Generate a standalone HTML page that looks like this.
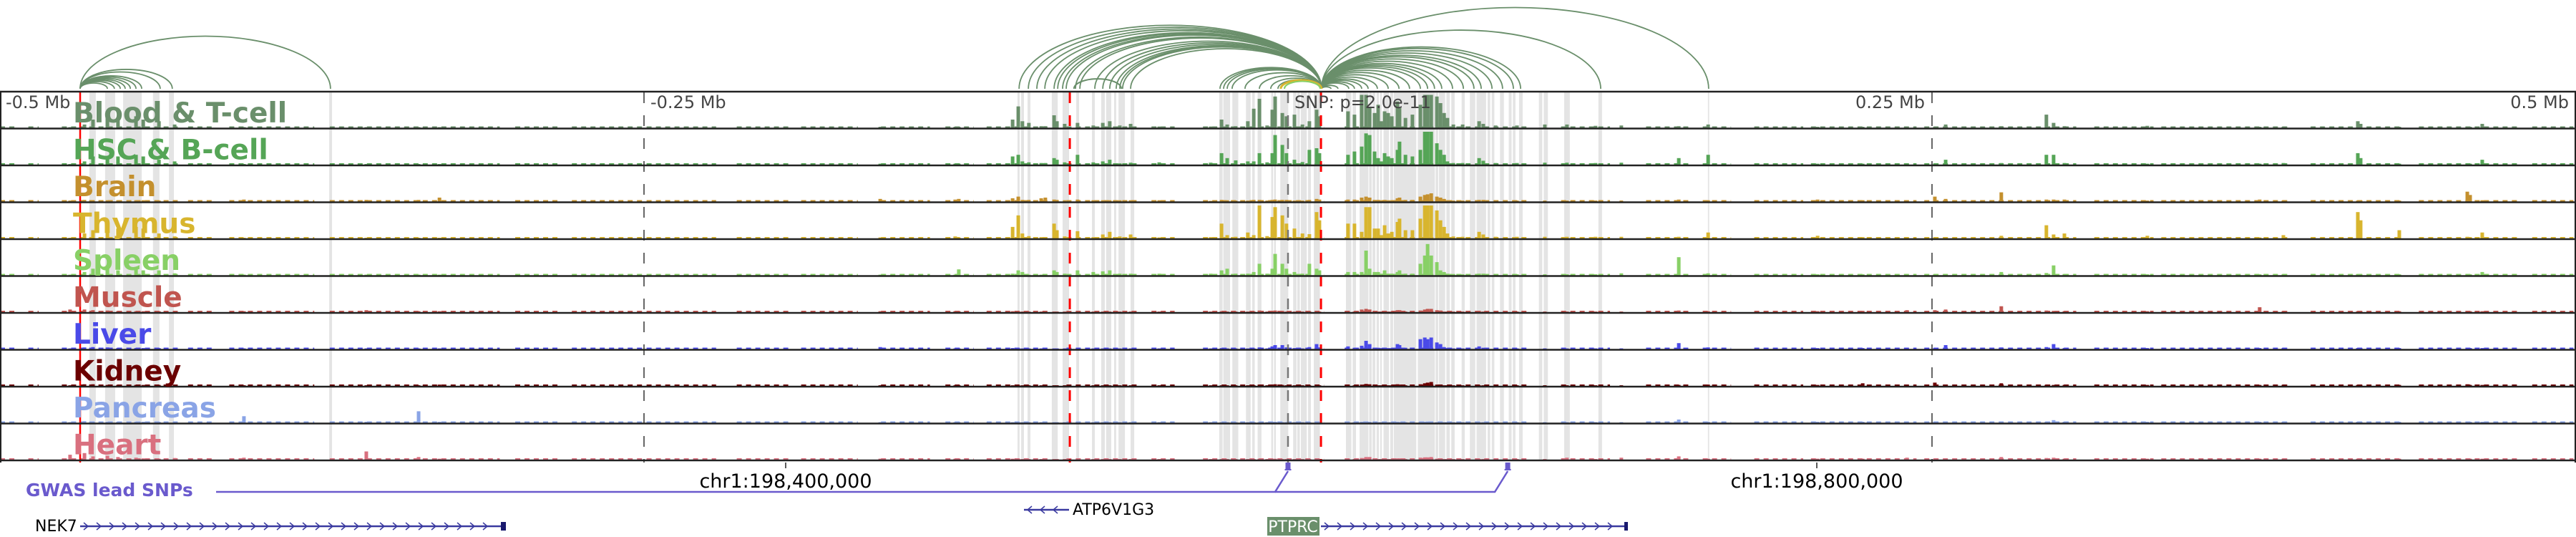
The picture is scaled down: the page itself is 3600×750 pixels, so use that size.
<!DOCTYPE html>
<html><head><meta charset="utf-8"><style>
html,body{margin:0;padding:0;background:#fff;}
svg{display:block;font-family:"DejaVu Sans","Liberation Sans",sans-serif;}
</style></head><body>
<svg id="chart" width="3600" height="750" viewBox="0 0 3600 750" xmlns="http://www.w3.org/2000/svg">
<g id="highlights"></g>
<g id="arcs"></g>
<g id="bg"></g>
<g id="bars"></g>
<g id="lines"></g>
<g id="borders"></g>
<g id="labels"></g>
<g id="bottom"></g>
</svg>
<script>
// ---- data ----
const trackNames = ["Blood & T-cell","HSC & B-cell","Brain","Thymus","Spleen","Muscle","Liver","Kidney","Pancreas","Heart"];
const trackColors = ["#6a8f6b","#55a556","#c4902e","#d8b52e","#88d066","#c0554f","#4a4ae8","#6b0000","#8aa4e6","#d9707f"];
const peakKb = [-472.8,-467.2,-463.9,-458.3,-454.2,-447.2,-444.4,-438.3,-432.2,-405.3,
-357.8,-337.5,-329.4,-158.3,-129.2,-127.8,-106.9,-104.7,-103.1,-100.6,
-95.8,-94.2,-90.8,-89.7,-86.7,-81.7,-75.6,-71.9,-69.2,-65.3,
-61.1,-50,-30,-25.8,-23.6,-20.3,-15.6,-13.3,-11.1,-8.1,
-6.1,-5,-2.2,-0.6,2.5,5.6,8.3,11.1,12.2,23.3,
25.8,28.6,30.3,31.7,33.6,35,36.1,37.5,38.9,40.3,
42.5,43.3,45.6,48.3,51.4,53.1,54.2,55.6,57.8,59.2,
60.6,61.9,64.2,67.8,74.2,75.8,80.6,88.9,99.7,108.3,
119.4,129.4,151.7,163.1,205.6,223.1,240.3,251.1,255.3,276.9,
294.4,297.2,301.4,333.6,377.2,386.4,415.3,416.4,431.4,457.8,458.9,463.6];
const bloodVals = [.02,.1,.25,.3,.3,.35,.25,.2,.1,.02, .02,.02,.02,.03,.03,.03,.25,.65,.2,.15, .05,.05,.38,.2,.12,.15,.07,.15,.2,.07, .12,.04,.04,.25,.1,.05,.2,.58,.88,.07, .55,.95,.45,.35,.4,.1,.2,.55,.35,.5, .4,1,1,.6,.45,.7,.2,.5,.45,.35, .8,.6,.3,.4,.7,1,1,1,.95,.75, .45,.3,.1,.1,.2,.12,.07,.07,.1,.1, .06,.07,.05,.1,.03,.03,.03,.03,.1,.05, .4,.15,.05,.06,.03,.03,.2,.12,.03,.03,.03,.12];
const hscVals = [.02,.1,.25,.25,.25,.3,.25,.15,.1,.02, .02,.02,.02,.03,.03,.03,.25,.3,.1,.07, .05,.05,.2,.15,.07,.3,.07,.1,.15,.04, .06,.07,.06,.35,.2,.13,.1,.1,.35,.07, .35,.9,.6,.35,.15,.08,.45,.5,.35,.3, .4,.55,.95,.9,.4,.2,.1,.35,.25,.2, .45,.7,.3,.25,.45,1,1,1,.65,.45, .3,.1,.05,.05,.2,.12,.05,.05,.06,.06, .05,.06,.2,.3,.03,.03,.03,.03,.15,.05, .3,.3,.05,.03,.03,.05,.35,.2,.03,.03,.03,.15];
const brainVals = [.03,.05,.04,.04,.04,.04,.04,.03,.03,.06, .05,.05,.12,.08,.06,.08,.1,.15,.05,.05, .1,.12,.06,.05,.04,.06,.04,.04,.04,.04, .04,.04,.02,.05,.04,.03,.03,.05,.05,.03, .05,.06,.05,.05,.03,.03,.05,.08,.06,.06, .06,.12,.15,.12,.05,.05,.04,.05,.04,.04, .1,.12,.05,.05,.15,.2,.22,.25,.15,.12, .08,.04,.03,.03,.05,.05,.03,.03,.03,.03, .03,.03,.06,.04,.06,.04,.04,.15,.08,.28, .06,.06,.06,.03,.06,.03,.03,.03,.03,.3,.2,.04];
const thymusVals = [.02,.15,.25,.35,.3,.35,.3,.15,.06,.02, .02,.02,.02,.03,.06,.03,.35,.7,.15,.07, .04,.04,.45,.25,.06,.22,.04,.12,.2,.06, .12,.03,.04,.45,.1,.05,.18,.1,1,.07, .65,.95,.7,.45,.3,.15,.13,.8,.55,.45, .45,.2,.95,.95,.3,.3,.1,.4,.15,.2, .5,.6,.25,.25,.6,1,1,1,.85,.55, .35,.15,.06,.05,.2,.12,.05,.05,.05,.05, .05,.05,.05,.18,.08,.04,.04,.03,.04,.08, .4,.12,.15,.08,.03,.1,.8,.55,.25,.05,.04,.18];
const spleenVals = [.02,.1,.2,.25,.15,.2,.15,.15,.06,.02, .02,.02,.02,.02,.02,.18,.05,.15,.1,.02, .02,.02,.15,.1,.05,.15,.1,.12,.15,.05, .05,.05,.05,.15,.2,.05,.05,.1,.35,.05, .2,.65,.35,.2,.1,.05,.35,.2,.15,.1, .1,.1,.75,.2,.1,.1,.05,.15,.05,.05, .1,.15,.05,.05,.35,.6,.95,.6,.4,.15, .1,.05,.04,.03,.05,.05,.03,.03,.03,.03, .03,.06,.55,.06,.03,.03,.03,.03,.04,.1, .07,.3,.04,.03,.03,.03,.04,.03,.03,.03,.03,.1];
const muscleVals = [.08,.08,.06,.05,.03,.03,.03,.03,.03,.03, .06,.03,.03,.03,.03,.03,.03,.03,.02,.02, .02,.02,.02,.02,.02,.02,.02,.02,.02,.02, .02,.02,.02,.03,.02,.02,.02,.02,.05,.02, .03,.05,.04,.02,.02,.02,.03,.04,.02,.04, .02,.08,.1,.08,.02,.02,.02,.02,.02,.02, .06,.06,.02,.02,.05,.08,.1,.1,.06,.05, .02,.02,.02,.02,.04,.02,.02,.02,.02,.02, .02,.02,.05,.03,.03,.04,.06,.06,.08,.18, .05,.04,.03,.03,.15,.03,.03,.03,.03,.03,.03,.03];
const liverVals = [.02,.05,.06,.05,.03,.03,.03,.03,.03,.02, .02,.02,.02,.06,.02,.02,.03,.03,.02,.02, .02,.02,.02,.02,.02,.02,.02,.02,.02,.02, .02,.02,.02,.03,.02,.02,.02,.02,.05,.02, .08,.12,.12,.05,.03,.02,.06,.15,.05,.08, .04,.1,.25,.15,.04,.04,.03,.04,.03,.03, .15,.12,.04,.04,.3,.35,.3,.35,.2,.15, .06,.03,.02,.02,.08,.04,.02,.02,.02,.02, .02,.02,.18,.05,.03,.03,.03,.03,.12,.05, .06,.15,.03,.03,.03,.03,.03,.03,.03,.03,.03,.03];
const kidneyVals = [.02,.05,.05,.03,.03,.03,.03,.03,.02,.02, .02,.02,.04,.02,.02,.02,.02,.02,.02,.02, .02,.02,.02,.02,.02,.02,.02,.02,.02,.02, .02,.02,.02,.02,.02,.02,.02,.02,.04,.02, .03,.05,.03,.02,.02,.02,.02,.03,.02,.04, .02,.04,.06,.05,.02,.02,.02,.02,.02,.02, .05,.04,.02,.02,.05,.08,.1,.12,.04,.03, .02,.02,.02,.02,.02,.02,.02,.02,.02,.02, .02,.02,.03,.04,.03,.08,.03,.1,.03,.08, .03,.03,.03,.03,.03,.03,.03,.03,.03,.05,.03,.03];
const pancreasVals = [.02,.05,.04,.03,.03,.03,.03,.03,.02,.2, .03,.35,.03,.02,.02,.02,.02,.02,.02,.02, .02,.02,.02,.02,.02,.02,.02,.02,.02,.02, .02,.02,.02,.02,.02,.02,.02,.02,.02,.02, .02,.03,.02,.02,.02,.02,.02,.03,.02,.02, .02,.03,.03,.03,.02,.02,.02,.02,.02,.02, .03,.02,.02,.02,.03,.03,.04,.04,.02,.02, .02,.02,.02,.02,.02,.02,.02,.02,.02,.02, .02,.02,.1,.03,.03,.03,.03,.03,.03,.04, .03,.08,.03,.03,.03,.03,.03,.03,.03,.03,.03,.03];
const heartVals = [.15,.2,.1,.12,.08,.06,.04,.03,.05,.06, .25,.08,.03,.03,.03,.03,.03,.03,.02,.02, .02,.02,.02,.02,.02,.02,.02,.02,.02,.02, .02,.02,.02,.02,.02,.02,.02,.02,.03,.02, .02,.03,.02,.02,.02,.02,.02,.03,.02,.02, .02,.05,.08,.08,.02,.02,.02,.02,.02,.02, .04,.04,.02,.02,.06,.07,.07,.08,.03,.02, .02,.02,.02,.02,.02,.02,.02,.02,.02,.06, .02,.06,.1,.03,.03,.03,.06,.03,.03,.08, .05,.06,.03,.03,.03,.03,.03,.03,.03,.03,.03,.03];
const bgSegKb = [[-500,-494],[-489,-485],[-476,-469],[-469,-431],[-427,-417],[-411,-378],[-372,-306],[-300,-283],[-278,-250],[-249,-222],[-214,-194],[-189,-167],[-158,-139],[-133,-122],[-117,-92],[-86,-58],[-53,-44],[-33,14],[22,94],[106,125],[139,156],[161,172],[181,200],[203,244],[247,306],[313,336],[339,389],[397,433],[439,478],[483,499]];
const highlightKb = [[-465.3,-462.8],[-459.2,-455.3],[-452.2,-445],[-440.6,-438.1],[-434.4,-432.5],[-372.2,-371.1],
[-105,-104.2],[-103.6,-102.5],[-101.1,-100],[-91.7,-89.4],[-87.5,-85],[-82.2,-81.1],[-76.1,-75],[-72.5,-71.1],[-70.6,-68.6],[-67.5,-66.7],[-65.8,-63.3],[-61.1,-59.7],
[-26.7,-25.4],[-25.1,-22.5],[-21.6,-19.3],[-16.3,-14.5],[-13.9,-12.9],[-11.8,-10.3],[-6.5,-5.8],[-5.4,-4.7],[-3,0.1],[2,3.3],[3.6,4.6],[5,7.3],[7.8,8.9],[10,12.4],
[22.5,24.6],[25.1,26.4],[27.8,31.2],[31.5,32.5],[32.8,33.9],[34.4,35.3],[35.8,36.4],[37.1,39.2],[39.7,40.8],[41.1,49.8],[50.4,57],[57.3,58.3],[58.6,61],[61.5,62.8],[63.4,64.7],[67.4,68.6],[70.6,72.7],[73.2,76.9],[77.5,78.5],[79.1,80.1],[82.3,83.8],[85.7,86.8],[87.3,88.3],[89.7,91.1],[97.4,98.7],[99.3,100.9],[107.2,109.4],[120.5,121.9],[163,163.5]];
const arcAnchorKb = 13;
const arcTargetKb = [-104.4,-100.8,-97.5,-94.4,-90.8,-89.4,-87.5,-86.1,-82.5,-80.8,-75,-71.9,-69.2,-66.7,-65.3,-64.2,-61.1,-26.4,-25,-23.6,-21.7,-16.7,-11.1,-6.7,-3.9,-1.4,
16.7,19.4,23.6,25.8,28.6,31.1,34.7,38.9,43.1,47.2,51.4,54.2,56.9,59.7,63.9,68.1,72.2,75,79.2,83.3,87.5,90.3,121.4,163.3];
const leftAnchorKb = -468.9;
const leftTargetKb = [-458.3,-455.6,-453.3,-451.4,-449.4,-447.2,-445,-437.8,-433.1,-371.7];
const tickLabels = ["-0.5 Mb","-0.25 Mb","SNP: p=2.0e-11","0.25 Mb","0.5 Mb"];
const tickKb = [-500,-250,0,250,500];
const snpKb = [0,85.3];

// ---- scales ----
const NS="http://www.w3.org/2000/svg";
function xs(kb){return 1800+kb*3.6;}
const TOP=129, TH=51.5, MAXH=46;
function trackBase(i){return TOP+TH*(i+1)-2;}
function ys(i,v){return MAXH*v;}
function mk(tag,attrs,parent){const e=document.createElementNS(NS,tag);for(const k in attrs)e.setAttribute(k,attrs[k]);parent.appendChild(e);return e;}
const G=id=>document.getElementById(id);
const allVals=[bloodVals,hscVals,brainVals,thymusVals,spleenVals,muscleVals,liverVals,kidneyVals,pancreasVals,heartVals];

// highlights
highlightKb.forEach(r=>{
  const e=mk('rect',{x:xs(r[0]),y:TOP,width:Math.max(1.5,xs(r[1])-xs(r[0])),height:TH*10,fill:'#e4e4e4'},G('highlights'));
  
  
});

// arcs
function arc(k1,k2,color,w){
  const x1=xs(Math.min(k1,k2)),x2=xs(Math.max(k1,k2));const span=x2-x1;
  const e=mk('path',{d:`M${x1},124 A${span/2},${0.21*span} 0 0 1 ${x2},124`,fill:'none',stroke:color,'stroke-width':w},G('arcs'));
  
  
}
arcTargetKb.forEach(t=>arc(arcAnchorKb,t,'#6a8f6b',1.8));
leftTargetKb.forEach(t=>arc(leftAnchorKb,t,'#6a8f6b',1.8));
arc(-83.1,-64.7,'#6a8f6b',2);
arc(-2.8,13,'#d8b52e',3);
arc(-1.4,12.5,'#88d066',2);

// background + bars
for(let i=0;i<10;i++){
  const base=trackBase(i);
  bgSegKb.forEach(s=>{
    const e=mk('line',{x1:xs(s[0]),y1:base-1,x2:xs(s[1]),y2:base-1,stroke:trackColors[i],'stroke-width':2,'stroke-dasharray':'7 6'},G('bg'));
    
    
  });
  const vals=allVals[i];
  peakKb.forEach((k,j)=>{
    const h=ys(i,vals[j]);
    const e=mk('rect',{x:xs(k)-2.5,y:base-h,width:5,height:h,fill:trackColors[i]},G('bars'));
    
    
  });
}

// marker lines
const L=G('lines');
let e;
e=mk('line',{x1:112,y1:TOP,x2:112,y2:646,stroke:'#ff0000','stroke-width':2.5},L);

[-250,250].forEach(k=>{e=mk('line',{x1:xs(k),y1:TOP,x2:xs(k),y2:646,stroke:'#666','stroke-width':2,'stroke-dasharray':'15 17'},L);
});
e=mk('line',{x1:xs(0),y1:TOP,x2:xs(0),y2:646,stroke:'#777','stroke-width':2.5,'stroke-dasharray':'15 17'},L);

[-84.7,12.8].forEach(k=>{e=mk('line',{x1:xs(k),y1:TOP,x2:xs(k),y2:646,stroke:'#ff0000','stroke-width':3,'stroke-dasharray':'15 17'},L);
});

// borders
for(let i=0;i<=10;i++){
  e=mk('line',{x1:0,y1:TOP-1+TH*i,x2:3600,y2:TOP-1+TH*i,stroke:'#222','stroke-width':2.5},G('borders'));
  
}
e=mk('line',{x1:1,y1:TOP,x2:1,y2:646,stroke:'#222','stroke-width':2},G('borders'));

e=mk('line',{x1:3599,y1:TOP,x2:3599,y2:646,stroke:'#222','stroke-width':2},G('borders'));


// labels
trackNames.forEach((n,i)=>{
  const t=mk('text',{x:102,y:TOP+TH*i+42,fill:trackColors[i],'font-size':39,'font-weight':'bold'},G('labels'));
  t.textContent=n;
  
  
});
tickLabels.forEach((n,i)=>{
  const k=tickKb[i];
  let x=xs(k)+9, anchor='start';
  if(k===250||k===500){x=xs(k)-10;anchor='end';}
  if(k===-500)x=8;
  const t=mk('text',{x:x,y:TOP+22,fill:'#444','font-size':24,'text-anchor':anchor},G('labels'));
  t.textContent=n;
  
  
});

// bottom annotations
const B=G('bottom');
[[1098,"chr1:198,400,000"],[2539,"chr1:198,800,000"]].forEach(c=>{
  e=mk('line',{x1:c[0],y1:646,x2:c[0],y2:654,stroke:'#222','stroke-width':1.5},B);
  
  const t=mk('text',{x:c[0],y:681,'font-size':27,'text-anchor':'middle',fill:'#000'},B);
  t.textContent=c[1];
  
});
let t=mk('text',{x:36,y:693,'font-size':25,'font-weight':'bold',fill:'#6a5acd'},B);
t.textContent="GWAS lead SNPs";

const s1=xs(snpKb[0]),s2=xs(snpKb[1]);
e=mk('polyline',{points:`302,687 ${s1-18},687 ${s1},658`,fill:'none',stroke:'#6a5acd','stroke-width':2.5},B);

e=mk('polyline',{points:`${s1-18},687 ${s2-18},687 ${s2},658`,fill:'none',stroke:'#6a5acd','stroke-width':2.5},B);

snpKb.forEach(k=>{
  e=mk('rect',{x:xs(k)-3.5,y:646,width:7,height:10,fill:'#6a5acd'},B);
  
  mk('rect',{x:xs(k)-4.5,y:655,width:9,height:2,fill:'#6a5acd'},B);
});
// genes
function gene(x1,x2,y,dir,name){
  e=mk('line',{x1:x1,y1:y,x2:x2,y2:y,stroke:'#3a3aa0','stroke-width':2.5},B);
  
  for(let x=x1+8;x<x2-6;x+=18){
    const p=dir>0?`M${x-3},${y-5} L${x+3},${y} L${x-3},${y+5}`:`M${x+3},${y-5} L${x-3},${y} L${x+3},${y+5}`;
    mk('path',{d:p,fill:'none',stroke:'#3a3aa0','stroke-width':1.5},B);
  }
}
gene(112,702,735,1,'nek7');
e=mk('rect',{x:700,y:729,width:7,height:12,fill:'#1a1a6e'},B);

t=mk('text',{x:49,y:742,'font-size':22,fill:'#000'},B);t.textContent="NEK7";

gene(1431,1494,712,-1,'atp6v1g3');
t=mk('text',{x:1499,y:719,'font-size':22,fill:'#000'},B);t.textContent="ATP6V1G3";

gene(1846,2274,735,1,'ptprc');
e=mk('rect',{x:2270,y:729,width:5,height:12,fill:'#1a1a6e'},B);

e=mk('rect',{x:1771,y:722,width:73,height:26,fill:'#6a8f6b'},B);

t=mk('text',{x:1807,y:743,'font-size':22,fill:'#fff','text-anchor':'middle'},B);t.textContent="PTPRC";

</script>
</body></html>
